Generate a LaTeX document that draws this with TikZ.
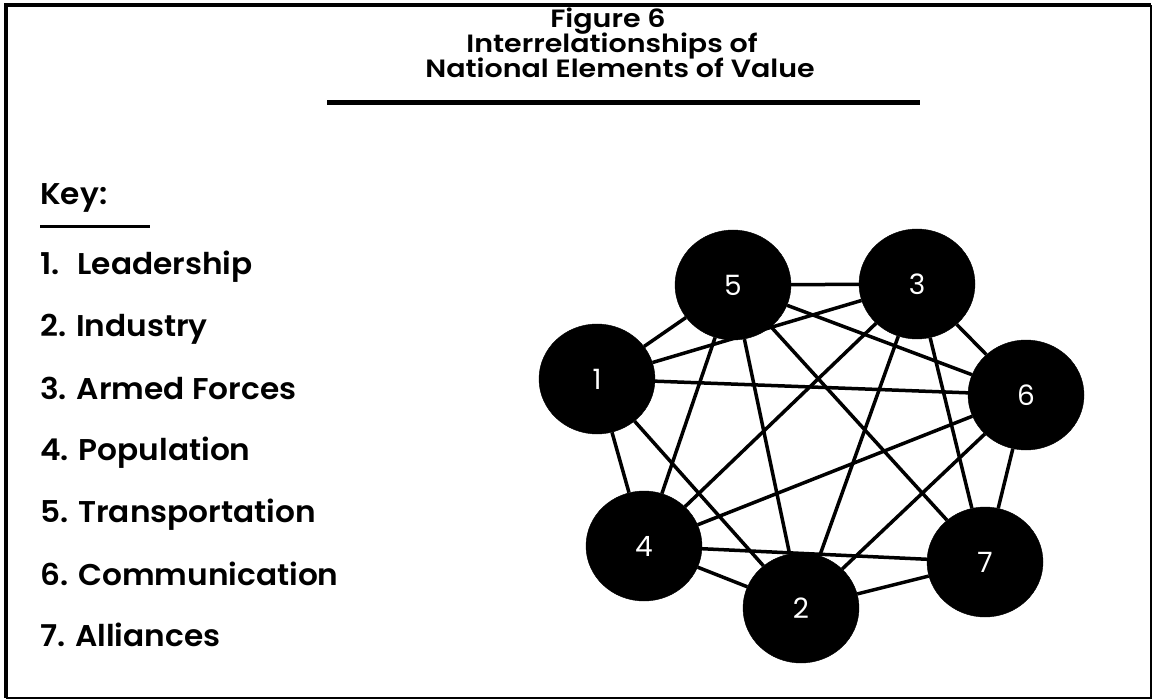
\documentclass[tikz,border=0pt]{standalone}
\usepackage{fontspec}
\setmainfont{Poppins}[BoldFont={Poppins SemiBold}]
\newfontfamily\titlefont{Poppins SemiBold}[FakeStretch=1.14]
\newfontfamily\keyfont{Poppins SemiBold}[FakeStretch=1.04]
\usetikzlibrary{shapes.geometric}
\tikzset{
  elem/.style={ellipse, fill=black, draw=black, minimum width=116pt, minimum height=110pt, inner sep=0pt,
    text=white, font=\fontsize{28}{28}\selectfont},
  link/.style={line width=3.5pt},
  keytext/.style={anchor=base west, inner sep=0pt, font=\keyfont\fontsize{30}{30}\selectfont},
  titletext/.style={anchor=base, inner sep=0pt, font=\titlefont\fontsize{25}{25}\selectfont},
}
\begin{document}
\begin{tikzpicture}[x=1pt,y=-1pt]
\useasboundingbox (0,0) rectangle (1153,700);
% frame
\draw[line width=4pt] (6,698) -- (6,5) -- (1151,5);
\draw[line width=2.5pt] (1151,5) -- (1151,698) -- (6,698);
% title
\node[titletext] (t1) at (608,28) {Figure 6};
\node[titletext] (t2) at (612,53) {Interrelationships of};
\node[titletext] (t3) at (620,78) {National Elements of Value};
\coordinate (tl) at (327,103);
\coordinate (tr) at (920,103);
\draw[line width=5pt] (tl) -- (tr);
% key
\node[keytext] (key) at (40,205) {Key:};
\coordinate (kl) at (40,227);
\coordinate (kr) at (150,227);
\draw[line width=3pt] (kl) -- (kr);
\node[keytext] (k1) at (40,275) {1.\hspace{18pt}Leadership};
\node[keytext] (k2) at (40,337) {2. Industry};
\node[keytext] (k3) at (40,399) {3. Armed Forces};
\node[keytext] (k4) at (40,460) {4. Population};
\node[keytext] (k5) at (40,522) {5. Transportation};
\node[keytext] (k6) at (40,585) {6. Communication};
\node[keytext] (k7) at (40,646) {7. Alliances};
% nodes
\node[elem] (n5) at (733,285) {5};
\node[elem] (n3) at (917,284) {3};
\node[elem] (n1) at (597,379) {1};
\node[elem] (n6) at (1026,395) {6};
\node[elem] (n4) at (644,546) {4};
\node[elem] (n7) at (985,562) {7};
\node[elem] (n2) at (801,608) {2};
% edges
\foreach \a/\b in {n1/n5, n5/n3, n3/n6, n6/n7, n7/n2, n2/n4, n4/n1,
  n4/n7, n1/n3, n1/n6, n1/n2, n5/n4, n5/n2, n5/n7, n5/n6,
  n3/n4, n3/n2, n3/n7, n6/n4, n6/n2}
  \draw[link] (\a) -- (\b);
\end{tikzpicture}
\end{document}
